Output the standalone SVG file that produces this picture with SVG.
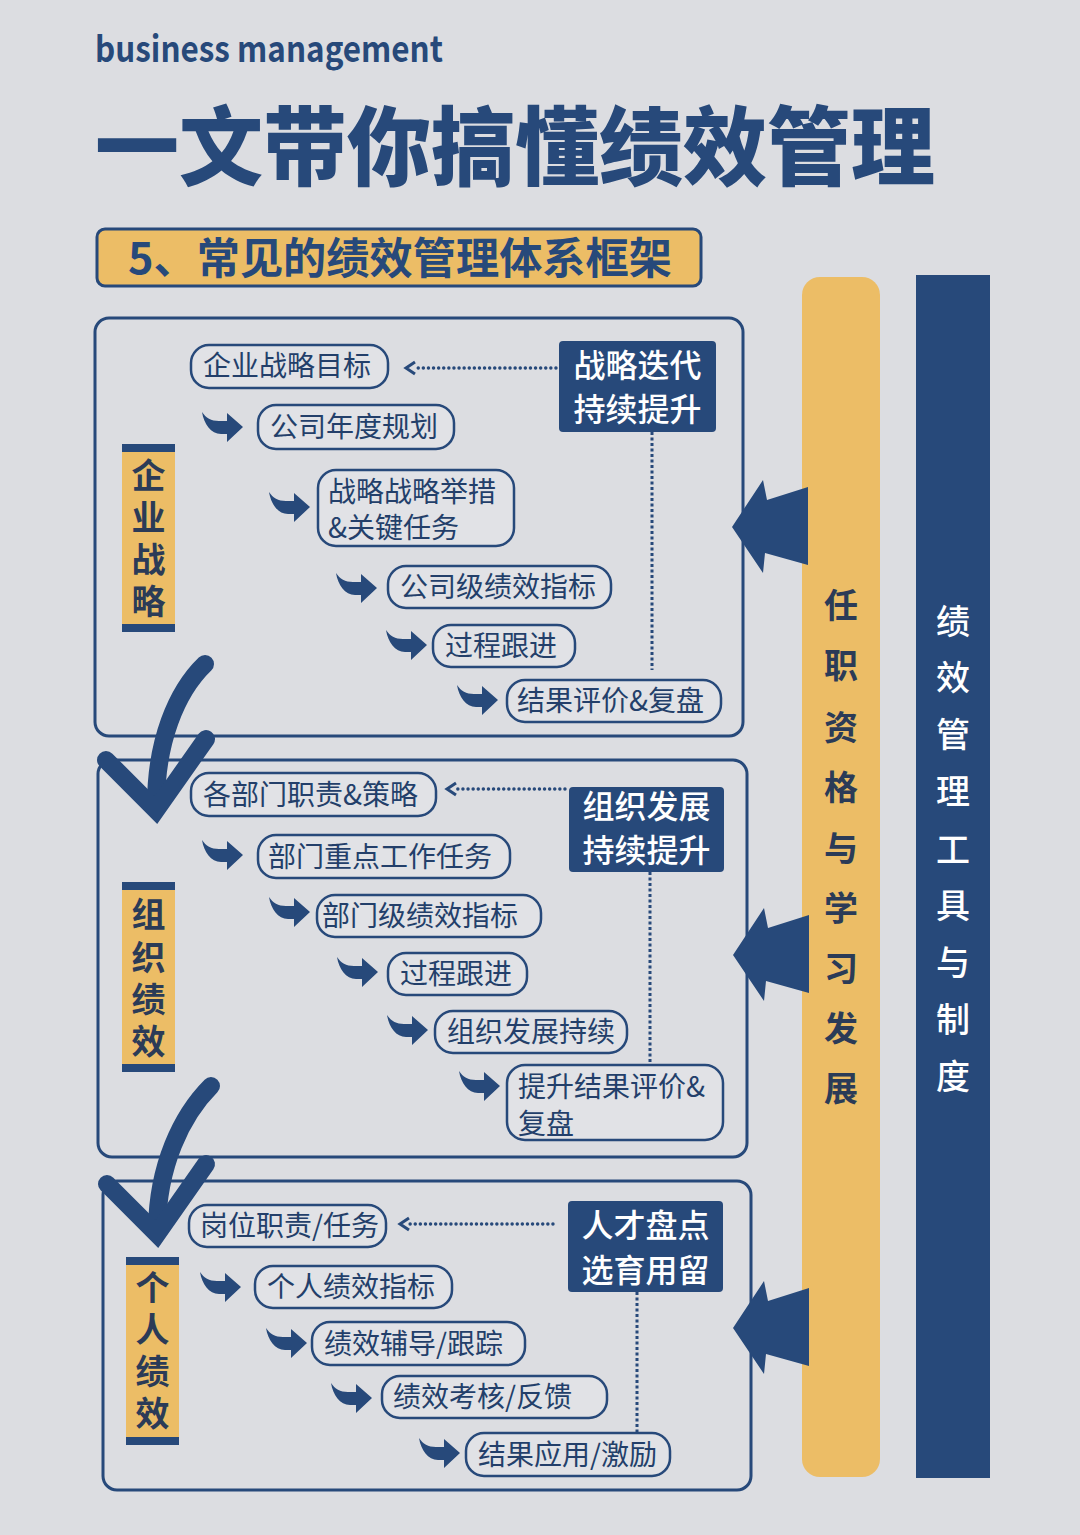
<svg xmlns="http://www.w3.org/2000/svg" width="1080" height="1535" viewBox="0 0 1080 1535">
<defs>
<style>
text{font-family:"Noto Sans CJK SC","Noto Sans",sans-serif}
.navyf{fill:#27497a}
.frame{fill:none;stroke:#27497a;stroke-width:3}
.pill{fill:#e1e2e6;stroke:#27497a;stroke-width:2.5}
.pt{font-size:28px;fill:#233f6a;font-weight:400}
.dt{font-size:32px;fill:#ffffff;font-weight:500;text-anchor:middle}
.lab{font-size:34px;fill:#2b3b57;font-weight:700;text-anchor:middle}
.dot{stroke:#27497a;stroke-width:3.4;stroke-linecap:round;stroke-dasharray:0.1 5;fill:none}
.vdot{stroke:#27497a;stroke-width:3;stroke-dasharray:3 2.5;fill:none}
.chev{fill:none;stroke:#27497a;stroke-width:3;stroke-linejoin:miter}
.brush{fill:none;stroke:#27497a;stroke-width:18;stroke-linecap:round;stroke-linejoin:miter}
</style>
<path id="sw" d="M0,0 L-16,-14 L-16,-6 L-24,-6 C-32,-6 -37,-9 -41,-15 C-39,-3 -32,7 -22,7 L-16,7 L-16,15 Z" fill="#27497a"/>
<path id="big" d="M0,0 L31,-47 L35,-27 L76,-40 L76,38 L33,26 L31,46 Z" fill="#27497a"/>
</defs>
<rect width="1080" height="1535" fill="#dcdde1"/>

<g id="header">
<text x="95" y="62" font-size="36" font-weight="700" fill="#27497a" textLength="348" lengthAdjust="spacingAndGlyphs">business management</text>
<text x="95" y="179" font-size="86" font-weight="900" fill="#27497a" textLength="840" lengthAdjust="spacingAndGlyphs">一文带你搞懂绩效管理</text>
<rect x="97" y="229" width="604" height="57" rx="8" fill="#ecbd66" stroke="#27497a" stroke-width="3"/>
<text x="128" y="274" font-size="43" font-weight="700" fill="#27497a" textLength="544" lengthAdjust="spacingAndGlyphs">5、常见的绩效管理体系框架</text>
</g>

<g id="bar-yellow">
<rect x="802" y="277" width="78" height="1200" rx="18" fill="#ecbd66"/>
<text class="lab" font-size="36"><tspan x="841" y="618">任</tspan><tspan x="841" y="678">职</tspan><tspan x="841" y="740">资</tspan><tspan x="841" y="800">格</tspan><tspan x="841" y="861">与</tspan><tspan x="841" y="921">学</tspan><tspan x="841" y="981">习</tspan><tspan x="841" y="1041">发</tspan><tspan x="841" y="1101">展</tspan></text>
</g>

<g id="bar-navy">
<rect x="916" y="275" width="74" height="1203" fill="#27497a"/>
<text font-size="34" font-weight="500" fill="#ffffff" text-anchor="middle"><tspan x="953" y="634">绩</tspan><tspan x="953" y="690">效</tspan><tspan x="953" y="747">管</tspan><tspan x="953" y="804">理</tspan><tspan x="953" y="862">工</tspan><tspan x="953" y="918">具</tspan><tspan x="953" y="975">与</tspan><tspan x="953" y="1032">制</tspan><tspan x="953" y="1089">度</tspan></text>
</g>

<g id="frame-1"><rect class="frame" x="95" y="318" width="648" height="418" rx="14"/></g>
<g id="frame-2"><rect class="frame" x="98" y="760" width="649" height="397" rx="14"/></g>
<g id="frame-3"><rect class="frame" x="103" y="1181" width="648" height="309" rx="14"/></g>

<g id="label-1">
<rect x="122" y="444" width="53" height="188" fill="#ecbd66"/>
<rect x="122" y="444" width="53" height="8" class="navyf"/><rect x="122" y="624" width="53" height="8" class="navyf"/>
<text class="lab"><tspan x="148.5" y="488">企</tspan><tspan x="148.5" y="530">业</tspan><tspan x="148.5" y="572">战</tspan><tspan x="148.5" y="614">略</tspan></text>
</g>
<g id="label-2">
<rect x="122" y="882" width="53" height="190" fill="#ecbd66"/>
<rect x="122" y="882" width="53" height="8" class="navyf"/><rect x="122" y="1064" width="53" height="8" class="navyf"/>
<text class="lab"><tspan x="148.5" y="927">组</tspan><tspan x="148.5" y="970">织</tspan><tspan x="148.5" y="1012">绩</tspan><tspan x="148.5" y="1054">效</tspan></text>
</g>
<g id="label-3">
<rect x="126" y="1257" width="53" height="188" fill="#ecbd66"/>
<rect x="126" y="1257" width="53" height="8" class="navyf"/><rect x="126" y="1437" width="53" height="8" class="navyf"/>
<text class="lab"><tspan x="152.5" y="1300">个</tspan><tspan x="152.5" y="1342">人</tspan><tspan x="152.5" y="1384">绩</tspan><tspan x="152.5" y="1426">效</tspan></text>
</g>

<g id="n1-1"><rect class="pill" x="191" y="345" width="197" height="43" rx="18"/><text class="pt" x="203" y="376">企业战略目标</text></g>
<g id="n1-2"><rect class="pill" x="258" y="405" width="196" height="44" rx="18"/><text class="pt" x="270" y="437">公司年度规划</text></g>
<g id="n1-3"><rect class="pill" x="318" y="470" width="196" height="76" rx="18"/><text class="pt"><tspan x="328" y="502">战略战略举措</tspan><tspan x="328" y="538">&amp;关键任务</tspan></text></g>
<g id="n1-4"><rect class="pill" x="388" y="566" width="223" height="42" rx="18"/><text class="pt" x="400" y="597">公司级绩效指标</text></g>
<g id="n1-5"><rect class="pill" x="433" y="625" width="142" height="42" rx="18"/><text class="pt" x="445" y="656">过程跟进</text></g>
<g id="n1-6"><rect class="pill" x="507" y="680" width="214" height="42" rx="18"/><text class="pt" x="517" y="711">结果评价&amp;复盘</text></g>
<g id="d1"><rect x="559" y="341" width="157" height="91" rx="4" class="navyf"/><text class="dt"><tspan x="637.5" y="377">战略迭代</tspan><tspan x="637.5" y="421">持续提升</tspan></text></g>

<g id="n2-1"><rect class="pill" x="191" y="773" width="245" height="43" rx="18"/><text class="pt" x="203" y="805">各部门职责&amp;策略</text></g>
<g id="n2-2"><rect class="pill" x="258" y="835" width="252" height="43" rx="18"/><text class="pt" x="268" y="867">部门重点工作任务</text></g>
<g id="n2-3"><rect class="pill" x="317" y="895" width="224" height="42" rx="18"/><text class="pt" x="322" y="926">部门级绩效指标</text></g>
<g id="n2-4"><rect class="pill" x="388" y="953" width="139" height="42" rx="18"/><text class="pt" x="400" y="984">过程跟进</text></g>
<g id="n2-5"><rect class="pill" x="435" y="1011" width="192" height="42" rx="18"/><text class="pt" x="447" y="1042">组织发展持续</text></g>
<g id="n2-6"><rect class="pill" x="507" y="1065" width="216" height="75" rx="18"/><text class="pt"><tspan x="518" y="1097">提升结果评价&amp;</tspan><tspan x="518" y="1134">复盘</tspan></text></g>
<g id="d2"><rect x="569" y="787" width="155" height="85" rx="4" class="navyf"/><text class="dt"><tspan x="646.5" y="818">组织发展</tspan><tspan x="646.5" y="862">持续提升</tspan></text></g>

<g id="n3-1"><rect class="pill" x="189" y="1205" width="197" height="42" rx="18"/><text class="pt" x="200" y="1236">岗位职责/任务</text></g>
<g id="n3-2"><rect class="pill" x="255" y="1266" width="197" height="42" rx="18"/><text class="pt" x="267" y="1297">个人绩效指标</text></g>
<g id="n3-3"><rect class="pill" x="312" y="1322" width="213" height="43" rx="18"/><text class="pt" x="324" y="1354">绩效辅导/跟踪</text></g>
<g id="n3-4"><rect class="pill" x="382" y="1376" width="225" height="42" rx="18"/><text class="pt" x="393" y="1407">绩效考核/反馈</text></g>
<g id="n3-5"><rect class="pill" x="466" y="1433" width="204" height="43" rx="18"/><text class="pt" x="478" y="1465">结果应用/激励</text></g>
<g id="d3"><rect x="568" y="1201" width="155" height="91" rx="4" class="navyf"/><text class="dt"><tspan x="645.5" y="1237">人才盘点</tspan><tspan x="645.5" y="1282">选育用留</tspan></text></g>

<g id="connectors">
<line class="dot" x1="556" y1="368" x2="416" y2="368"/><polyline class="chev" points="415,362 406,368 415,374"/>
<line class="vdot" x1="652" y1="432" x2="652" y2="670"/>
<line class="dot" x1="565" y1="789" x2="457" y2="789"/><polyline class="chev" points="456,783 447,789 456,795"/>
<line class="vdot" x1="650" y1="872" x2="650" y2="1063"/>
<line class="dot" x1="553" y1="1224" x2="410" y2="1224"/><polyline class="chev" points="409,1218 400,1224 409,1230"/>
<line class="vdot" x1="637" y1="1292" x2="637" y2="1432"/>

<use href="#sw" x="243" y="427"/>
<use href="#sw" x="310" y="507"/>
<use href="#sw" x="377" y="588"/>
<use href="#sw" x="427" y="645"/>
<use href="#sw" x="498" y="700"/>

<use href="#sw" x="243" y="855"/>
<use href="#sw" x="310" y="912"/>
<use href="#sw" x="378" y="972"/>
<use href="#sw" x="428" y="1030"/>
<use href="#sw" x="500" y="1086"/>

<use href="#sw" x="241" y="1287"/>
<use href="#sw" x="307" y="1343"/>
<use href="#sw" x="372" y="1398"/>
<use href="#sw" x="460" y="1453"/>

<use href="#big" x="732" y="527"/>
<use href="#big" x="733" y="955"/>
<use href="#big" x="733" y="1328"/>

<path class="brush" d="M205,664 C176,692 156,742 156,805"/>
<path class="brush" stroke-linecap="butt" d="M106,760 L156,810 L206,739"/>
<path class="brush" d="M211,1086 C181,1116 158,1166 157,1228"/>
<path class="brush" stroke-linecap="butt" d="M107,1184 L157,1234 L206,1164"/>
</g>
</svg>
